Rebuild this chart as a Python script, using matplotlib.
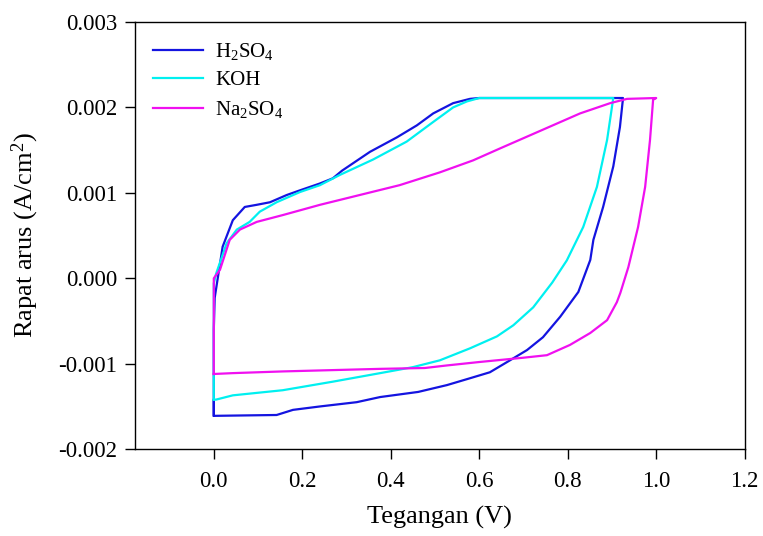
import matplotlib
matplotlib.use("Agg")
import matplotlib.pyplot as plt

plt.rcParams['font.family'] = ['Liberation Serif', 'DejaVu Serif']
plt.rcParams['mathtext.fontset'] = 'custom'
plt.rcParams['mathtext.rm'] = 'Liberation Serif'
plt.rcParams['mathtext.it'] = 'Liberation Serif:italic'

labels = ['H$_2$SO$_4$', 'KOH', 'Na$_2$SO$_4$']
colors = ['#1414e0', '#00f0f0', '#f010f0']

# loops: x in V, y in mA/cm2 (scaled to A/cm2 when plotted)
h2so4_x = [0.0, 0.0, 0.002, 0.02, 0.043, 0.07, 0.097, 0.127, 0.165, 0.195, 0.24, 0.269, 0.29, 0.353, 0.414,
           0.459, 0.496, 0.541, 0.579, 0.60,
           0.925, 0.918, 0.903, 0.88, 0.858, 0.851, 0.824, 0.783, 0.744, 0.708, 0.663, 0.624, 0.579, 0.527, 0.462,
           0.376, 0.323, 0.24, 0.179, 0.142, 0.0, 0.0]
h2so4_y = [-1.61, -0.6, -0.23, 0.37, 0.68, 0.835, 0.86, 0.89, 0.975, 1.03, 1.11, 1.17, 1.26, 1.48, 1.65,
           1.79, 1.93, 2.05, 2.10, 2.11,
           2.11, 1.77, 1.31, 0.835, 0.45, 0.215, -0.16, -0.45, -0.69, -0.84, -0.98, -1.10, -1.17, -1.25, -1.33,
           -1.39, -1.45, -1.50, -1.54, -1.60, -1.61, -1.43]

koh_x = [0.0, 0.0, 0.005, 0.029, 0.052, 0.081, 0.104, 0.142, 0.195, 0.24, 0.285, 0.36, 0.436, 0.496, 0.541,
         0.572, 0.60,
         0.903, 0.889, 0.866, 0.835, 0.798, 0.765, 0.722, 0.677, 0.64, 0.579, 0.511, 0.45,
         0.376, 0.269, 0.156, 0.043, 0.005, 0.0]
koh_y = [-1.42, -0.06, 0.05, 0.41, 0.57, 0.66, 0.78, 0.89, 1.01, 1.09, 1.21, 1.39, 1.60, 1.83, 2.0,
         2.07, 2.11,
         2.11, 1.62, 1.07, 0.60, 0.21, -0.05, -0.34, -0.55, -0.68, -0.82, -0.96, -1.04,
         -1.11, -1.21, -1.31, -1.37, -1.42, -1.42]

na2so4_x = [0.0, 0.0, 0.014, 0.036, 0.059, 0.097, 0.156, 0.24, 0.33, 0.42, 0.511, 0.586, 0.647,
            0.753, 0.828, 0.896, 0.934, 1.0, 0.993, 0.986, 0.975, 0.959, 0.937, 0.919, 0.911, 0.889, 0.851,
            0.805, 0.753, 0.699, 0.60, 0.527, 0.477, 0.376, 0.156, 0.043, 0.0]
na2so4_y = [-1.12, 0.0, 0.10, 0.45, 0.57, 0.66, 0.74, 0.86, 0.975, 1.09, 1.24, 1.38, 1.52,
            1.76, 1.93, 2.05, 2.10, 2.11, 2.09, 1.62, 1.07, 0.60, 0.13, -0.17, -0.28, -0.49, -0.64,
            -0.78, -0.90, -0.93, -0.98, -1.02, -1.05, -1.06, -1.09, -1.11, -1.12]

series = [(h2so4_x, h2so4_y), (koh_x, koh_y), (na2so4_x, na2so4_y)]

fig = plt.figure(figsize=(7.63, 5.36), dpi=100)
ax = fig.add_axes([0.177, 0.162, 0.799, 0.797])

for (xs, ys), lab, c in zip(series, labels, colors):
    ax.plot(xs, [v * 1e-3 for v in ys], color=c, lw=1.6, label=lab)

ax.set_xlim(-0.178, 1.2)
ax.set_ylim(-0.002, 0.003)
ax.set_xticks([0.0, 0.2, 0.4, 0.6, 0.8, 1.0, 1.2])
ax.set_xticklabels(['0.0', '0.2', '0.4', '0.6', '0.8', '1.0', '1.2'])
ax.set_yticks([-0.002, -0.001, 0.0, 0.001, 0.002, 0.003])
ax.set_yticklabels(['-0.002', '-0.001', '0.000', '0.001', '0.002', '0.003'])
ax.tick_params(direction='out', length=7, width=1, labelsize=16.5, top=False, right=False, pad=6)
ax.tick_params(axis='x', pad=9)
for s in ax.spines.values():
    s.set_linewidth(1.0)

ax.set_xlabel('Tegangan (V)', fontsize=19, labelpad=10)
ax.set_ylabel('Rapat arus (A/cm$^2$)', fontsize=19, labelpad=12)

leg = ax.legend(loc='upper left', frameon=False, fontsize=15, handlelength=2.4,
                borderaxespad=0.3, labelspacing=0.42, handletextpad=0.6,
                bbox_to_anchor=(0.005, 0.99))

fig.savefig('out.png', dpi=100)
